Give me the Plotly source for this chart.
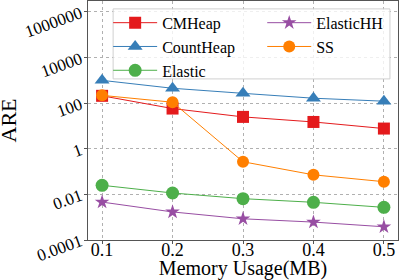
import plotly.graph_objects as go

memory = [0.1, 0.2, 0.3, 0.4, 0.5]
cmheap = [210, 58, 25, 15, 7.7]
countheap = [1000, 450, 270, 165, 122]
elastic = [0.025, 0.0115, 0.0065, 0.0045, 0.0027]
elastichh = [0.0046, 0.0017, 0.00085, 0.00061, 0.00038]
ss = [220, 110, 0.27, 0.072, 0.036]

ytickvals = [1e-4, 1e-2, 1, 1e2, 1e4, 1e6]
yticktext = ["0.0001", "0.01", "1", "100", "10000", "1000000"]
xtickvals = [0.1, 0.2, 0.3, 0.4, 0.5]

FONT = "Liberation Serif"

series = [
    ("CMHeap", cmheap, "#e41a1c", "square", 12, "legend"),
    ("CountHeap", countheap, "#377eb8", "triangle-up", 13, "legend"),
    ("Elastic", elastic, "#4daf4a", "circle", 13, "legend"),
    ("ElasticHH", elastichh, "#984ea3", "star", 11, "legend2"),
    ("SS", ss, "#ff7f00", "circle", 12, "legend2"),
]

fig = go.Figure()
for name, vals, color, sym, size, leg in series:
    fig.add_trace(go.Scatter(
        x=memory, y=vals, name=name, mode="lines+markers",
        line=dict(color=color, width=1),
        marker=dict(symbol=sym, size=size, color=color),
        legend=leg,
    ))

legend_style = dict(
    xanchor="left", yanchor="top", bgcolor="rgba(0,0,0,0)", borderwidth=0,
    font=dict(family=FONT, size=16), itemwidth=44, tracegroupgap=0,
    traceorder="normal",
)

fig.update_layout(
    width=399, height=280,
    margin=dict(l=88, r=1, t=1, b=40),
    paper_bgcolor="white", plot_bgcolor="white",
    font=dict(family=FONT, color="black", size=16),
    legend=dict(x=0.065, y=0.98, **legend_style),
    legend2=dict(x=0.562, y=0.98, **legend_style),
    shapes=[dict(
        type="rect", xref="paper", yref="paper",
        x0=0.081, x1=0.974, y0=0.674, y1=0.967,
        fillcolor="rgba(255,255,255,0.8)", line=dict(color="#d0d0d0", width=1),
        layer="above",
    )],
    annotations=[dict(
        text="ARE", xref="paper", yref="paper", x=-0.255, y=0.5,
        xanchor="center", yanchor="middle", textangle=-90, showarrow=False,
        font=dict(family=FONT, size=22, color="black"),
    )],
    xaxis=dict(
        range=[0.08, 0.52], tickvals=xtickvals, ticktext=[str(v) for v in xtickvals],
        showgrid=True, gridcolor="#b0b0b0", griddash="dot", gridwidth=1,
        showline=True, linecolor="#555555", linewidth=1, mirror=True,
        ticks="outside", ticklen=3, tickcolor="#555555",
        tickfont=dict(family=FONT, size=18), ticklabelstandoff=-10,
        title=dict(text="Memory Usage(MB)", font=dict(family=FONT, size=20), standoff=6),
        zeroline=False, automargin=False,
    ),
    yaxis=dict(
        type="log", range=[-4, 6.48], tickvals=ytickvals, ticktext=yticktext,
        tickangle=-20,
        showgrid=True, gridcolor="#b0b0b0", griddash="dot", gridwidth=1,
        showline=True, linecolor="#555555", linewidth=1, mirror=True,
        ticks="outside", ticklen=3, tickcolor="#555555",
        tickfont=dict(family=FONT, size=17),
        zeroline=False, automargin=False,
    ),
)

fig.write_html("out.html", config={"displayModeBar": False},
               post_script="document.body.style.margin='0';document.body.style.overflow='hidden';")
